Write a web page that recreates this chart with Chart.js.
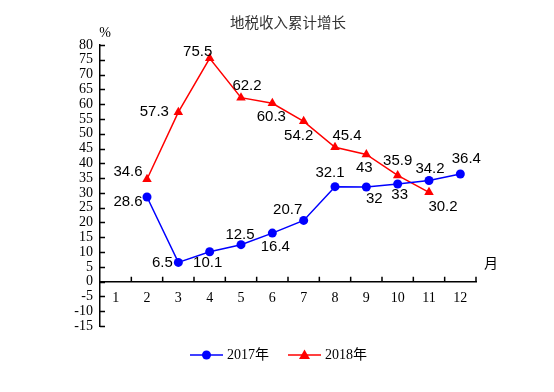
<!DOCTYPE html>
<html>
<head>
<meta charset="utf-8">
<script src="https://cdn.jsdelivr.net/npm/chart.js@4/dist/chart.umd.min.js"></script>
<style>
  html, body { margin: 0; padding: 0; background: #fff; }
  #wrap { width: 554px; height: 392px; }
</style>
</head>
<body>
<div id="wrap"><canvas id="chart"></canvas></div>
<script>
const months = ['1', '2', '3', '4', '5', '6', '7', '8', '9', '10', '11', '12'];
const growth2017 = [null, 28.6, 6.5, 10.1, 12.5, 16.4, 20.7, 32.1, 32, 33, 34.2, 36.4];
const growth2018 = [null, 34.6, 57.3, 75.5, 62.2, 60.3, 54.2, 45.4, 43, 35.9, 30.2, null];
const yMin = -15, yMax = 80, yStep = 5;

// label offsets (px) from each point, picked by eye
const off2017 = [null, [-19, 5], [-16, 0], [-2, 11], [-1, -10], [3, 14], [-16, -11], [-5, -14], [8, 12], [2, 11], [1, -12], [6, -15]];
const off2018 = [null, [-19, -7], [-24, 0], [-12, -6], [6, -12], [-1, 14], [-5, 15], [12, -11], [-2, 13], [0, -15], [14, 15], null];

const SERIF = '"Liberation Serif", "Times New Roman", "Noto Sans CJK SC", serif';
const SANS = '"Liberation Sans", Arial, sans-serif';

const extras = {
  id: 'extras',
  afterDatasetsDraw(chart) {
    const ctx = chart.ctx;
    ctx.save();
    ctx.font = '15px ' + SANS;
    ctx.fillStyle = '#000';
    ctx.textAlign = 'center';
    ctx.textBaseline = 'middle';
    [[0, growth2017, off2017], [1, growth2018, off2018]].forEach(([di, vals, offs]) => {
      const meta = chart.getDatasetMeta(di);
      vals.forEach((v, i) => {
        if (v === null) return;
        const p = meta.data[i];
        ctx.fillText(String(v), p.x + offs[i][0], p.y + offs[i][1]);
      });
    });
    ctx.restore();
  },
  afterDraw(chart) {
    const ctx = chart.ctx;
    const x = chart.scales.x, y = chart.scales.y;
    const area = chart.chartArea;
    const y0 = y.getPixelForValue(0);
    ctx.save();
    ctx.strokeStyle = '#000';
    ctx.lineWidth = 1.5;
    ctx.beginPath();
    // y ticks pointing inward
    for (let v = yMin; v <= yMax; v += yStep) {
      const py = Math.round(y.getPixelForValue(v)) + 0.5;
      ctx.moveTo(area.left, py);
      ctx.lineTo(area.left + 5, py);
    }
    // x ticks at category boundaries, pointing up
    const half = (x.getPixelForTick(1) - x.getPixelForTick(0)) / 2;
    for (let i = 0; i < months.length; i++) {
      const px = x.getPixelForTick(i) + half;
      ctx.moveTo(px, y0);
      ctx.lineTo(px, y0 - 5);
    }
    ctx.stroke();

    ctx.fillStyle = '#333';
    ctx.textAlign = 'center';
    ctx.textBaseline = 'middle';
    ctx.font = '14.5px "Noto Sans CJK SC", sans-serif';
    ctx.fillText('地税收入累计增长', (area.left + area.right) / 2, 22);

    ctx.fillStyle = '#000';
    ctx.font = '14px ' + SERIF;
    ctx.fillText('%', area.left + 5, 33);
    ctx.font = '14px "Noto Sans CJK SC", sans-serif';
    ctx.fillText('月', area.right + 15, y0 - 19);

    // legend
    const ly = 355;
    const items = [
      { x: 190, color: '#0000ff', text: '2017年', shape: 'circle' },
      { x: 288, color: '#ff0000', text: '2018年', shape: 'triangle' }
    ];
    items.forEach(it => {
      ctx.strokeStyle = it.color;
      ctx.fillStyle = it.color;
      ctx.lineWidth = 1.5;
      ctx.beginPath();
      ctx.moveTo(it.x, ly);
      ctx.lineTo(it.x + 33, ly);
      ctx.stroke();
      ctx.beginPath();
      if (it.shape === 'circle') {
        ctx.arc(it.x + 16.5, ly, 4.5, 0, Math.PI * 2);
      } else {
        ctx.moveTo(it.x + 16.5, ly - 5.5);
        ctx.lineTo(it.x + 22, ly + 4);
        ctx.lineTo(it.x + 11, ly + 4);
        ctx.closePath();
      }
      ctx.fill();
      ctx.fillStyle = '#000';
      ctx.textAlign = 'left';
      ctx.font = '14px ' + SERIF;
      ctx.fillText(it.text, it.x + 37, ly);
    });
    ctx.restore();
  }
};

new Chart(document.getElementById('chart'), {
  type: 'line',
  data: {
    labels: months,
    datasets: [
      {
        label: '2017年',
        data: growth2017,
        borderColor: '#0000ff',
        backgroundColor: '#0000ff',
        borderWidth: 1.5,
        pointStyle: 'circle',
        pointRadius: 4.5,
        pointBorderWidth: 0,
        tension: 0
      },
      {
        label: '2018年',
        data: growth2018,
        borderColor: '#ff0000',
        backgroundColor: '#ff0000',
        borderWidth: 1.5,
        pointStyle: 'triangle',
        pointRadius: 5.5,
        pointBorderWidth: 0,
        tension: 0
      }
    ]
  },
  options: {
    responsive: true,
    maintainAspectRatio: false,
    animation: false,
    events: [],
    layout: { padding: { left: 70, right: 78, top: 45, bottom: 66 } },
    plugins: {
      legend: { display: false },
      title: { display: false },
      tooltip: { enabled: false }
    },
    scales: {
      x: {
        type: 'category',
        position: { y: 0 },
        offset: true,
        grid: { display: true, offset: true, drawOnChartArea: false, drawTicks: false },
        border: { display: true, color: '#000', width: 1.5 },
        ticks: { color: '#000', font: { family: SERIF, size: 14 }, padding: 8, maxRotation: 0, autoSkip: false }
      },
      y: {
        min: yMin,
        max: yMax,
        afterFit(scale) { scale.width = 30; },
        grid: { display: true, drawOnChartArea: false, drawTicks: false },
        border: { display: true, color: '#000', width: 1.5 },
        ticks: { stepSize: yStep, autoSkip: false, color: '#000', font: { family: SERIF, size: 14 }, padding: 7 }
      }
    }
  },
  plugins: [extras]
});
</script>
</body>
</html>
